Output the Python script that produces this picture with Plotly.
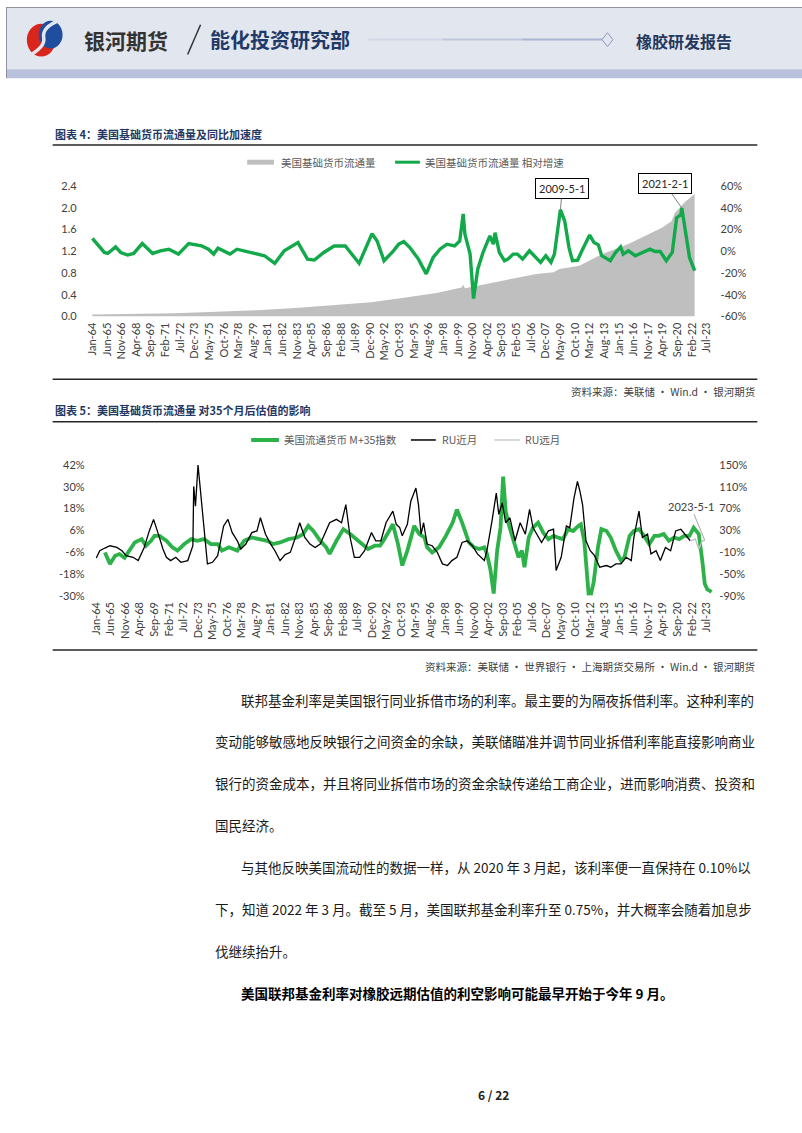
import plotly.graph_objects as go
import pandas as pd

W, H = 802, 1133

# ---------------- data: chart 4 ----------------
C1_AREA_DATES = ["1964-01", "1968-01", "1972-01", "1976-01", "1980-01", "1984-01", "1988-01",
                 "1991-01", "1994-01", "1997-05", "1999-10", "1999-12", "2000-02", "2001-06",
                 "2003-10", "2007-01", "2008-09", "2009-04", "2011-03", "2013-06", "2015-12",
                 "2019-03", "2020-02", "2020-06", "2021-06", "2022-05"]
C1_AREA_VALUES = [0.035, 0.045, 0.06, 0.085, 0.115, 0.16, 0.21, 0.26, 0.34, 0.43, 0.53, 0.58,
                  0.52, 0.57, 0.66, 0.78, 0.81, 0.87, 0.93, 1.15, 1.33, 1.63, 1.75, 1.90, 2.11, 2.25]

C1_GREEN_DATES = ["1964-01", "1964-05", "1965-03", "1965-07", "1966-04", "1966-10", "1967-06",
                  "1968-01", "1968-11", "1969-11", "1970-08", "1971-06", "1972-05", "1973-05",
                  "1974-08", "1975-04", "1975-10", "1976-03", "1977-05", "1978-01", "1979-06",
                  "1980-09", "1981-09", "1982-08", "1983-12", "1984-11", "1985-07", "1986-06",
                  "1987-06", "1988-07", "1989-11", "1990-07", "1991-02", "1991-08", "1992-04",
                  "1993-03", "1993-09", "1994-03", "1994-10", "1995-08", "1996-05", "1997-01",
                  "1997-09", "1998-05", "1999-02", "1999-08", "1999-12", "2000-02", "2000-08",
                  "2000-12", "2001-05", "2001-11", "2002-07", "2002-11", "2003-01", "2003-06",
                  "2003-12", "2004-04", "2004-10", "2005-03", "2005-09", "2006-05", "2007-02",
                  "2007-06", "2007-12", "2008-06", "2008-10", "2009-05", "2009-10", "2010-03",
                  "2010-07", "2011-01", "2011-06", "2012-03", "2012-08", "2013-01", "2013-05",
                  "2014-03", "2014-09", "2015-03", "2015-06", "2015-12", "2016-08", "2017-04",
                  "2018-01", "2018-07", "2019-01", "2019-08", "2020-03", "2020-08", "2021-01",
                  "2021-02", "2021-07", "2021-11", "2022-05"]
C1_GREEN_VALUES = [11.8, 7.9, -1.2, -2.1, 3.9, -1.2, -3.6, -2.1, 7.0, -2.1, 0.3, 1.8, -2.7, 7.0,
                   4.8, 1.8, -2.7, 2.7, -2.7, 1.8, -1.2, -4.2, -11.2, 0.3, 7.9, -7.3, -8.2, -1.2,
                   4.8, 4.8, -11.2, 2.7, 16.1, 9.4, -8.8, 0.3, 6.4, 8.8, 3.3, -7.3, -20.9, -5.8,
                   1.8, 6.4, 4.8, 9.4, 34.3, 15.5, -2.7, -43.6, -16.4, -1.2, 14.0, 6.4, 17.0, -1.2,
                   -8.8, -7.3, -2.7, -2.7, -7.3, 0.3, -7.3, -10.3, -4.2, -10.3, -2.7, 38.2, 27.6,
                   3.3, -8.8, -8.2, 0.3, 14.8, 7.9, 5.8, -4.2, -8.8, -1.2, 3.9, -2.7, 0.3, -4.2,
                   -1.2, 1.8, -0.3, -0.3, -8.8, -1.2, 30.6, 33.6, 39.7, 14.0, -5.8, -17.9]

# ---------------- data: chart 5 ----------------
C2_GREEN_DATES = ["1964-11", "1965-05", "1965-11", "1966-04", "1966-10", "1967-04", "1967-10",
                  "1968-06", "1968-11", "1969-05", "1969-09", "1970-03", "1970-11", "1971-06",
                  "1971-12", "1972-08", "1973-04", "1973-11", "1974-07", "1975-03", "1975-11",
                  "1976-04", "1976-12", "1977-10", "1978-06", "1979-03", "1980-01", "1980-09",
                  "1981-04", "1981-12", "1982-10", "1983-08", "1984-03", "1984-09", "1985-03",
                  "1985-11", "1986-06", "1986-10", "1987-06", "1988-02", "1988-10", "1989-05",
                  "1989-11", "1990-07", "1991-03", "1991-09", "1992-02", "1992-08", "1992-12",
                  "1993-06", "1993-11", "1994-05", "1995-01", "1995-07", "1996-01", "1996-04",
                  "1996-10", "1997-06", "1998-02", "1998-10", "1999-03", "1999-09", "2000-05",
                  "2000-11", "2001-05", "2001-11", "2002-02", "2002-06", "2002-10", "2003-02",
                  "2003-06", "2003-09", "2003-12", "2004-03", "2004-09", "2005-03", "2005-07",
                  "2005-10", "2006-03", "2006-08", "2007-02", "2007-08", "2008-02", "2008-08",
                  "2009-01", "2009-07", "2010-01", "2010-07", "2011-01", "2011-04", "2011-08",
                  "2011-10", "2012-01", "2012-04", "2012-07", "2012-12", "2013-04", "2013-10",
                  "2014-03", "2014-09", "2015-03", "2015-07", "2016-01", "2016-06", "2016-12",
                  "2017-06", "2017-12", "2018-06", "2018-11", "2019-05", "2019-11", "2020-05",
                  "2020-11", "2021-05", "2021-11", "2022-04", "2022-10", "2023-02", "2023-05",
                  "2023-08", "2024-01"]
C2_GREEN_VALUES = [-6.1, -12.4, -7.9, -7.0, -9.1, -5.1, -0.6, 1.2, -2.4, 0.3, 3.0, 3.0, 0.3, -3.3,
                   -5.1, -1.5, 1.2, 0.3, 1.2, -1.5, -1.5, -5.1, -3.3, -5.1, 0.3, 2.1, 1.2, 0.3,
                   -1.5, -0.6, 1.2, 2.1, 4.0, 8.5, 5.7, 0.3, -3.3, -6.9, 0.3, 6.7, 4.0, 1.2, -1.5,
                   -4.2, -2.4, -2.4, 1.2, 6.7, 9.4, -1.5, -13.3, -5.1, 8.5, 4.0, 2.1, -3.3, -6.1,
                   -3.3, 3.0, 10.3, 17.5, 10.3, -0.6, -3.3, -4.2, -3.3, -6.9, -15.1, -28.7, -5.1,
                   7.5, 35.6, 16.6, 10.3, 0.3, -8.8, -5.1, -14.2, 2.1, 7.5, 10.3, 4.8, 1.2, 3.0,
                   2.1, 1.2, 6.7, 5.7, 8.5, 9.4, 0.3, -12.4, -28.7, -28.7, -22.4, -3.3, 6.7, 5.7,
                   2.1, -5.1, -10.6, -8.8, 3.0, 5.7, 6.7, 3.0, -1.5, 3.0, 3.0, 4.0, 0.3, 2.1, 1.2,
                   3.0, 3.0, 7.5, 4.0, -10.6, -23.3, -26.5, -27.8]

C2_BLACK_DATES = ["1964-01", "1964-05", "1964-11", "1965-05", "1966-01", "1966-07", "1966-12",
                  "1967-08", "1968-02", "1968-09", "1969-03", "1969-08", "1970-01", "1970-07",
                  "1970-11", "1971-04", "1971-10", "1972-04", "1972-12", "1973-06", "1973-07",
                  "1973-09", "1973-12", "1974-03", "1974-06", "1974-11", "1975-05", "1975-11",
                  "1976-06", "1976-11", "1977-04", "1977-10", "1978-02", "1978-08", "1979-03",
                  "1979-09", "1980-01", "1980-07", "1981-01", "1981-06", "1981-12", "1982-06",
                  "1982-12", "1983-06", "1983-11", "1984-05", "1984-11", "1985-05", "1985-11",
                  "1986-04", "1986-10", "1987-06", "1987-12", "1988-05", "1988-10", "1989-03",
                  "1989-09", "1990-03", "1990-11", "1991-04", "1991-10", "1992-04", "1992-12",
                  "1993-04", "1993-08", "1993-11", "1994-05", "1994-09", "1995-03", "1995-06",
                  "1995-09", "1995-12", "1996-04", "1996-10", "1997-04", "1997-10", "1998-04",
                  "1998-09", "1999-03", "1999-09", "2000-03", "2000-09", "2001-03", "2001-11",
                  "2002-02", "2002-08", "2003-01", "2003-04", "2003-08", "2003-12", "2004-05",
                  "2004-11", "2005-05", "2005-11", "2006-04", "2006-08", "2006-12", "2007-06",
                  "2008-02", "2008-08", "2008-11", "2009-05", "2009-11", "2010-03", "2010-08",
                  "2010-12", "2011-03", "2011-06", "2011-10", "2012-03", "2012-08", "2013-02",
                  "2013-10", "2014-03", "2014-09", "2015-03", "2015-09", "2016-03", "2016-06",
                  "2016-12", "2017-04", "2017-10", "2018-02", "2018-08", "2019-01", "2019-07",
                  "2020-01", "2020-07", "2021-01", "2021-07", "2021-12"]
C2_BLACK_VALUES = [-20.4, -7.2, -2.3, 1.9, -1.2, -7.2, -16.2, -19.3, -25.3, -1.2, 29.1, 50.3, 26.0,
                   -4.1, -19.3, -25.3, -19.3, -28.4, -25.3, 1.9, 110.7, 74.4, 150.0, 101.6, 41.2,
                   -31.3, -28.4, -16.2, 38.2, 50.3, 26.0, 11.0, -4.1, 5.0, 26.0, 29.1, 53.2, 23.1,
                   5.0, -7.2, -25.3, -14.4, -10.2, 17.0, 44.1, 17.0, 5.0, -1.2, 5.0, 23.1, 44.1,
                   50.3, 44.1, 77.5, 17.0, -19.3, -19.3, -7.2, 26.0, 11.0, 11.0, 44.1, 65.3, 41.2,
                   35.1, 20.1, 41.2, 83.5, 107.6, 77.5, 23.1, 44.1, 5.0, 1.9, -10.2, -31.3, -34.4,
                   -25.3, -19.3, 7.9, 11.0, 1.9, -13.1, -25.3, -7.2, 47.2, 98.5, 59.4, 80.4, 44.1,
                   53.2, 11.0, 44.1, 23.1, 68.4, 35.1, 23.1, 7.9, 29.1, 32.2, -43.4, -19.3, 38.2,
                   35.1, 89.5, 119.7, 101.6, 77.5, 11.0, -7.2, -16.2, -37.4, -34.4, -37.4, -31.3,
                   -31.3, -19.3, -25.3, 17.0, 65.3, 17.0, 23.1, -13.1, -7.2, -25.3, -1.2, -7.2,
                   29.1, 32.2, 20.1, 11.0]

C2_GREY_DATES = ["2021-12", "2022-06", "2022-10", "2023-02", "2023-05"]
C2_GREY_VALUES = [11.0, 14.0, -4.1, 11.0, 12.0]

X_TICK_LABELS = ["Jan-64", "Jun-65", "Nov-66", "Apr-68", "Sep-69", "Feb-71", "Jul-72", "Dec-73",
                 "May-75", "Oct-76", "Mar-78", "Aug-79", "Jan-81", "Jun-82", "Nov-83", "Apr-85",
                 "Sep-86", "Feb-88", "Jul-89", "Dec-90", "May-92", "Oct-93", "Mar-95", "Aug-96",
                 "Jan-98", "Jun-99", "Nov-00", "Apr-02", "Sep-03", "Feb-05", "Jul-06", "Dec-07",
                 "May-09", "Oct-10", "Mar-12", "Aug-13", "Jan-15", "Jun-16", "Nov-17", "Apr-19",
                 "Sep-20", "Feb-22", "Jul-23"]
X_TICK_VALS = pd.date_range("1964-01-01", periods=len(X_TICK_LABELS), freq="17MS")

C1_LEFT_TICKS = [0.0, 0.4, 0.8, 1.2, 1.6, 2.0, 2.4]
C1_LEFT_TEXT = ["0.0", "0.4", "0.8", "1.2", "1.6", "2.0", "2.4"]
C1_RIGHT_TICKS = [-60, -40, -20, 0, 20, 40, 60]
C1_RIGHT_TEXT = ["-60%", "-40%", "-20%", "0%", "20%", "40%", "60%"]
C2_LEFT_TICKS = [-30, -18, -6, 6, 18, 30, 42]
C2_LEFT_TEXT = ["-30%", "-18%", "-6%", "6%", "18%", "30%", "42%"]
C2_RIGHT_TICKS = [-90, -50, -10, 30, 70, 110, 150]
C2_RIGHT_TEXT = ["-90%", "-50%", "-10%", "30%", "70%", "110%", "150%"]

# ---------------- helpers ----------------
CJK = "Noto Sans CJK SC"
NUMF = "Lato"
GREEN1 = "#12A94B"
GREEN2 = "#2DB24A"


def px(x):
    return x / W


def py(y):
    return 1 - y / H


shapes = []
annos = []


def rect(x0, y0, x1, y1, fill):
    shapes.append(dict(type="rect", xref="paper", yref="paper", x0=px(x0), x1=px(x1),
                       y0=py(y1), y1=py(y0), fillcolor=fill,
                       line=dict(width=0), layer="below"))


def seg(x0, y0, x1, y1, color, w):
    shapes.append(dict(type="line", xref="paper", yref="paper", x0=px(x0), x1=px(x1),
                       y0=py(y0), y1=py(y1), line=dict(color=color, width=w)))


def hline(x0, x1, y, color, w):
    seg(x0, y, x1, y, color, w)


def path(pts, fill, color, w, close=False, quad=False):
    if quad:
        s = f"M{px(pts[0][0]):.5f},{py(pts[0][1]):.5f}"
        for i in range(1, len(pts), 2):
            s += (f" Q{px(pts[i][0]):.5f},{py(pts[i][1]):.5f}"
                  f" {px(pts[i + 1][0]):.5f},{py(pts[i + 1][1]):.5f}")
    else:
        s = " ".join(("M" if i == 0 else "L") + f"{px(a):.5f},{py(b):.5f}"
                     for i, (a, b) in enumerate(pts))
    if close:
        s += " Z"
    shapes.append(dict(type="path", xref="paper", yref="paper", path=s,
                       fillcolor=fill, line=dict(color=color, width=w)))


def text(x, y, s, size, color, anchor="left", bold=False, family=CJK):
    if bold:
        s = "<b>" + s + "</b>"
    annos.append(dict(x=px(x), y=py(y), xref="paper", yref="paper", text=s, showarrow=False,
                      xanchor=anchor, yanchor="middle", borderpad=0,
                      font=dict(family=family, size=size, color=color)))


# ---------------- header ----------------
rect(0, 0, 802, 63, "#E2E6EE")
rect(0, 63, 802, 72, "#B9C1DD")
seg(0.5, 0, 0.5, 72, "#8E939C", 1)
hline(0, 802, 0.5, "#8E939C", 1)
# logo
shapes.append(dict(type="circle", xref="paper", yref="paper", x0=px(21), x1=px(50),
                   y0=py(50), y1=py(17), fillcolor="#D8261D", line=dict(width=0)))
shapes.append(dict(type="circle", xref="paper", yref="paper", x0=px(33), x1=px(57),
                   y0=py(42), y1=py(14), fillcolor="#1E4E9D", line=dict(width=0)))
path([(55, 13), (36, 20), (38, 31), (40, 41), (20, 51)], "rgba(0,0,0,0)", "#E2E6EE", 3.5,
     quad=True)
text(78, 33, "银河期货", 21, "#333333", bold=True)
seg(183, 48, 196, 18, "#333333", 1.5)
text(205, 33, "能化投资研究部", 20, "#1F3A68", bold=True)
hline(365, 440, 33, "#D3D8E6", 2)
hline(440, 520, 33, "#BFC7DC", 2)
hline(520, 601, 33, "#A9B4D0", 2)
path([(606, 26), (611.5, 33), (606, 40), (600.5, 33)], "#E2E6EE", "#8C98BA", 1, close=True)
text(634, 34, "橡胶研发报告", 16, "#25385F", bold=True)

# ---------------- chart 4 frame ----------------
text(48, 128, "图表 4：美国基础货币流通量及同比加速度", 11, "#1F3864", bold=True)
hline(47, 757, 139.5, "#262626", 1.5)
rect(243, 154.5, 270, 159.5, "#BFBFBF")
text(276, 157, "美国基础货币流通量", 10.5, "#595959")
hline(392, 417, 157, GREEN1, 3)
text(421, 157, "美国基础货币流通量 相对增速", 10.5, "#595959")
hline(47, 757, 376.5, "#262626", 1.5)
text(756, 389, "资料来源：美联储 · Win.d · 银河期货", 10.5, "#404040", anchor="right")

# ---------------- chart 5 frame ----------------
text(48, 408, "图表 5：美国基础货币流通量 对35个月后估值的影响", 11, "#1F3864", bold=True)
hline(47, 757, 419.5, "#262626", 1.5)
hline(247, 275, 438, GREEN2, 4)
text(279, 438, "美国流通货币 M+35指数", 10.5, "#595959")
hline(408, 433, 438, "#000000", 1.5)
text(438, 438, "RU近月", 10.5, "#595959")
hline(492, 518, 438, "#BFBFBF", 1.2)
text(522, 438, "RU远月", 10.5, "#595959")
hline(47, 757, 650.5, "#262626", 1.5)
text(756, 667, "资料来源：美联储 · 世界银行 · 上海期货交易所 · Win.d · 银河期货", 10.5, "#404040",
     anchor="right")

# ---------------- body text ----------------
BODY = "#1A1A1A"
BS = 13.5
text(236, 701, "联邦基金利率是美国银行同业拆借市场的利率。最主要的为隔夜拆借利率。这种利率的", BS, BODY)
text(210, 743, "变动能够敏感地反映银行之间资金的余缺，美联储瞄准并调节同业拆借利率能直接影响商业", BS, BODY)
text(210, 785, "银行的资金成本，并且将同业拆借市场的资金余缺传递给工商企业，进而影响消费、投资和", BS, BODY)
text(210, 827, "国民经济。", BS, BODY)
text(236, 870, "与其他反映美国流动性的数据一样，从 2020 年 3 月起，该利率便一直保持在 0.10%以", BS, BODY)
text(210, 912, "下，知道 2022 年 3 月。截至 5 月，美国联邦基金利率升至 0.75%，并大概率会随着加息步", BS, BODY)
text(210, 955, "伐继续抬升。", BS, BODY)
text(236, 997, "美国联邦基金利率对橡胶远期估值的利空影响可能最早开始于今年 9 月。", BS, "#000000", bold=True)
text(491, 1100, "6 / 22", 12, "#222222", anchor="center", bold=True)

# ---------------- traces ----------------
fig = go.Figure()
fig.add_trace(go.Scatter(x=C1_AREA_DATES, y=C1_AREA_VALUES, mode="lines", fill="tozeroy",
                         fillcolor="#BFBFBF", line=dict(width=0, color="#BFBFBF"),
                         xaxis="x", yaxis="y", showlegend=False, hoverinfo="skip"))
fig.add_trace(go.Scatter(x=C1_GREEN_DATES, y=C1_GREEN_VALUES, mode="lines",
                         line=dict(width=3.4, color=GREEN1), xaxis="x", yaxis="y2",
                         showlegend=False))
fig.add_trace(go.Scatter(x=C2_BLACK_DATES, y=C2_BLACK_VALUES, mode="lines",
                         line=dict(width=1.3, color="#000000"), xaxis="x2", yaxis="y4",
                         showlegend=False))
fig.add_trace(go.Scatter(x=C2_GREEN_DATES, y=C2_GREEN_VALUES, mode="lines",
                         line=dict(width=3.8, color=GREEN2), xaxis="x2", yaxis="y3",
                         showlegend=False))
fig.add_trace(go.Scatter(x=C2_GREY_DATES, y=C2_GREY_VALUES, mode="lines",
                         line=dict(width=1.3, color="#BFBFBF"), xaxis="x2", yaxis="y4",
                         showlegend=False))

# annotations on data
annos.append(dict(x="2009-05-01", y=38.2, xref="x", yref="y2", text="2009-5-1", showarrow=True,
                  arrowhead=0, arrowwidth=1, arrowcolor="#808080", ax=2, ay=-21,
                  bordercolor="#000000", borderwidth=1, borderpad=3, bgcolor="#FFFFFF",
                  font=dict(family=NUMF, size=11, color="#262626")))
annos.append(dict(x="2021-02-01", y=39.7, xref="x", yref="y2", text="2021-2-1", showarrow=True,
                  arrowhead=0, arrowwidth=1, arrowcolor="#808080", ax=-17, ay=-24,
                  bordercolor="#000000", borderwidth=1, borderpad=3, bgcolor="#FFFFFF",
                  font=dict(family=NUMF, size=11, color="#262626")))
annos.append(dict(x="2023-05-01", y=12.0, xref="x2", yref="y4", text="2023-5-1", showarrow=True,
                  arrowhead=0, arrowwidth=1, arrowcolor="#A6A6A6", ax=-14, ay=-34,
                  font=dict(family=NUMF, size=11, color="#404040")))

# ---------------- axes ----------------
TICKFONT = dict(family=NUMF, size=11, color="#404040")
XFONT = dict(family=NUMF, size=11, color="#404040")
common = dict(showgrid=False, zeroline=False, showline=False, ticks="")

# chart 4: Jan-64 at x=87, 0.8669 px / month ; range -2..722 months
c1_x0, c1_x1 = 87 - 2 * 0.8669, 87 + 722 * 0.8669
c2_x0, c2_x1 = 91 - 2 * 0.861, 91 + 722 * 0.861
XR = ["1963-11-01", "2024-03-01"]

fig.update_layout(
    width=W, height=H, margin=dict(l=0, r=0, t=0, b=0),
    paper_bgcolor="#FFFFFF", plot_bgcolor="rgba(0,0,0,0)",
    showlegend=False, shapes=shapes, annotations=annos,
    xaxis=dict(domain=[px(c1_x0), px(c1_x1)], range=XR, type="date", anchor="y",
               tickvals=X_TICK_VALS, ticktext=X_TICK_LABELS, tickangle=-90, tickfont=XFONT,
               ticklabelstandoff=3, **common),
    yaxis=dict(domain=[py(313), py(181)], range=[0, 2.4], anchor="x", tickvals=C1_LEFT_TICKS,
               ticktext=C1_LEFT_TEXT, tickfont=TICKFONT, ticklabelstandoff=13, **common),
    yaxis2=dict(overlaying="y", side="right", anchor="x", range=[-60, 60],
                tickvals=C1_RIGHT_TICKS, ticktext=C1_RIGHT_TEXT, tickfont=TICKFONT,
                ticklabelstandoff=6, **common),
    xaxis2=dict(domain=[px(c2_x0), px(c2_x1)], range=XR, type="date", anchor="y3",
                tickvals=X_TICK_VALS, ticktext=X_TICK_LABELS, tickangle=-90, tickfont=XFONT,
                ticklabelstandoff=3, **common),
    yaxis3=dict(domain=[py(595.7), py(463.3)], range=[-30, 42], anchor="x2",
                tickvals=C2_LEFT_TICKS, ticktext=C2_LEFT_TEXT, tickfont=TICKFONT,
                ticklabelstandoff=9, **common),
    yaxis4=dict(overlaying="y3", side="right", anchor="x2", range=[-90, 150],
                tickvals=C2_RIGHT_TICKS, ticktext=C2_RIGHT_TEXT, tickfont=TICKFONT,
                ticklabelstandoff=5, **common),
)

fig.write_html("out.html")
